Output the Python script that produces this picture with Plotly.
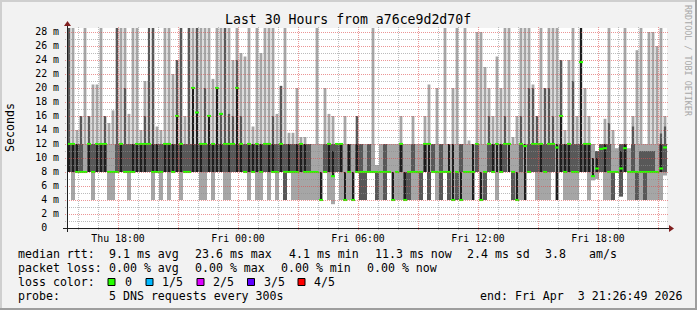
import plotly.graph_objects as go
import pandas as pd

# ---------------- data ----------------
START = pd.Timestamp("2026-04-02 15:26:49")
END = pd.Timestamp("2026-04-03 21:26:49")
STEP_MIN = 12
N = 150
times = [START + pd.Timedelta(minutes=STEP_MIN * (i + 0.5)) for i in range(N)]

# outer smoke (light gray) : lo .. hi   (ms)
hi = [29, 29, 14, 16, 29, 16, 20.5, 20.5, 29, 16,
      15, 16.8, 29, 29, 29, 16.3, 29, 29, 14, 21,
      21, 29, 14.5, 14, 29, 29, 22, 24, 29, 16,
      29, 29, 29, 29, 29, 29, 21.3, 29, 29, 29,
      29, 24, 29, 25, 24.5, 29, 14.5, 29, 25, 29,
      29, 29, 16.3, 20.3, 29, 13.6, 13.6, 20, 13, 13,
      12, 12, 29, 12, 20, 16.3, 16, 12, 12, 16,
      12, 12, 16, 12, 12, 12, 29, 9, 12, 12,
      12, 12, 12, 16, 12, 12, 16, 12, 12, 16,
      20.5, 12, 20, 12, 29, 12, 20, 29, 12, 29,
      12.5, 12, 28, 28, 23, 20, 16, 24.5, 20, 29,
      29, 13, 16, 29, 29, 29, 20.5, 16, 29, 20,
      29, 29, 29, 24, 14, 24, 29, 16, 29, 20,
      16, 12, 10.5, 12, 15.6, 29, 14, 11.4, 12, 29,
      11.4, 16, 25.4, 29, 12, 28, 28, 26, 29, 16]
lo = [8, 4, 8, 8, 8, 8, 4, 8, 8, 8,
      4, 4, 8, 8, 8, 4, 8, 8, 8, 8,
      8, 4, 8, 4, 8, 4, 8, 8, 4, 8,
      8, 8, 8, 4, 4, 8, 4, 8, 8, 4,
      4, 8, 8, 8, 8, 4, 8, 4, 4, 8,
      4, 8, 4, 8, 4, 8, 4, 4, 4, 4,
      4, 4, 4, 4, 8, 4, 3.4, 8, 4, 4,
      4, 4, 8, 4, 4, 8, 8, 4, 4, 4,
      8, 4, 4, 4, 4, 4, 4, 4, 4, 8,
      4, 8, 4, 4, 8, 4, 4, 4, 4, 4,
      4, 4, 8, 4, 4, 8, 8, 4, 8, 8,
      8, 4, 4, 4, 4, 8, 8, 4, 4, 4,
      4, 8, 4, 8, 4, 4, 4, 4, 8, 8,
      4, 6.8, 7, 8, 4, 4, 4, 8, 4.5, 8,
      4, 4, 4, 4, 4, 4, 4, 4, 4, 7.5]

# inner smoke (dark gray) : dlo .. dhi
dlo = [8, 8, 8, 8, None, 8, 8, 8, 8, 8,
       None, None, 8, 8, 8, 8, 8, 8, 8, 8,
       8, 8, 8, 8, 8, 8, 8, 8, 8, 8,
       8, 8, 8, 8, 8, 8, 8, 8, 8, 8,
       8, 8, 8, 8, 8, 8, 8, 8, 8, 8,
       8, 8, 8, 8, 4, 8, 8, 8, 8, 8,
       8, None, None, None, 8, 8, 8, 8, 8, None,
       8, None, 8, 4, 4, 8, None, 4, None, 4,
       None, None, None, 8, 4, 4, 8, None, 4, 8,
       4, 8, None, 4, None, 4, None, 4, 8, None,
       None, None, 8, None, 4, 8, 8, None, 8, 8,
       None, 4, None, 8, None, 8, 8, 8, 8, 8,
       8, 8, None, 8, 8, 8, 8, 8, 8, 8,
       8, None, 8, 8, 8, 8, 4, None, 4.5, 8,
       None, 8, 4, 8, 4, 8, 8, None, 8, 8]
dhi = [29, 12, 12, 16, None, 16, 12, 12, 12, 16,
       None, None, 29, 12, 20, 12, 12, 12, 12, 16,
       29, 29, 12, 12, 12, 12, 12, 24, 29, 12,
       29, 16, 29, 12, 20, 16, 12, 20, 16.3, 29,
       16.3, 16, 24, 16, 12, 12, 12, 12, 12, 12,
       12, 16, 12, 20.3, 12, 12, 12, 12, 12, 12,
       12, None, None, None, 12, 12, 12, 12, 12, None,
       12, None, 16, 12, 8, 12, None, 8, None, 12,
       None, None, None, 12, 8, 8, 12, None, 8, 12,
       8, 12, None, 12, None, 8, None, 8, 12, None,
       None, None, 12, None, 8, 16, 12, None, 12, 16,
       None, 8, None, 16, None, 20, 20, 16, 12, 20,
       20, 16, None, 24, 12, 12, 21, 12, 12, 12,
       12, None, 11, 12, 12, 15, 8, None, 12, 12,
       None, 14.5, 8, 11, 11, 11, 11, None, 13.5, 14.5]

# darkest core (near black) : blo .. bhi
blo = [8, 8, 8, None, None, 8, None, 8, 8, 8,
       None, None, None, 8, None, None, 8, 8, 8, 8,
       None, 8, 8, None, 8, 8, 8, 8, 8, None,
       None, 8, 8, 8, None, 8, 8, 8, 8, None,
       8, None, 8, 8, None, 8, 8, 8, 8, None,
       8, 8, None, 8, None, 8, None, 8, 8, 8,
       None, None, None, 4, None, 8, 7.4, None, 8, 4,
       8, 4, 8, None, None, None, None, None, None, None,
       None, 4, None, 8, 4, None, None, None, None, 8,
       8, None, None, None, None, 8, 4, None, 4, None,
       None, 4, None, 4, None, None, 8, 8, 8, None,
       8, None, 4, None, 4, None, None, None, 8, None,
       None, None, 4, 8, 8, 8, None, None, 8, 8,
       8, 7.4, 8, None, 8, None, None, None, 8, 8,
       None, None, None, None, None, None, None, None, 8, None]
bhi = [12, 12, 12, None, None, 12, None, 12, 12, 12,
       None, None, None, 12, None, None, 12, 12, 12, 12,
       None, 12, 12, None, 12, 12, 12, 16, 12, None,
       None, 20, 16.5, 12, None, 16, 12, 20, 12, None,
       12, None, 20, 12, None, 12, 12, 12, 12, None,
       12, 12, None, 12, None, 12, None, 12, 12, 12,
       None, None, None, 8, None, 12, 11, None, 12, 8,
       12, 8, 12, None, None, None, None, None, None, None,
       None, 8, None, 12, 8, None, None, None, None, 12,
       12, None, None, None, None, 12, 12, None, 8, None,
       None, 12, None, 8, None, None, 12, 12, 12, None,
       12, None, 8, None, 12, None, None, None, 12, None,
       None, None, 12, 16, 12, 12, None, None, 29, 12,
       12, 10, 10, None, 12, None, None, None, 11, 12,
       None, None, None, None, None, None, None, None, 12, None]

# median rtt (ms), loss 0 everywhere
med = [12, 12, 8, 8, 8, 12, 8, 12, 12, 12,
       8, 8, 8, 12, 8, 8, 8, 12, 12, 12,
       12, 8, 8, 8, 12, 12, 8, 16, 12, 8,
       8, 20, 16.5, 12, 12, 16, 12, 20, 16.3, 12,
       12, 12, 20, 12, 8, 12, 8, 12, 8, 12,
       12, 8, 8, 12, 8, 8, 8, 8, 12, 8,
       8, 8, 8, 4, 8, 12, 7.4, 12, 12, 4,
       8, 4, 8, 8, 8, 8, 8, 8, 8, 8,
       8, 4, 8, 12, 4, 8, 8, 8, 8, 12,
       12, 8, 8, 8, 8, 8, 4, 8, 4, 8,
       8, 8, 12, 4, 8, 12, 8, 12, 8, 12,
       12, 8, 4, 12, 11.7, 8, 12, 12, 12, 8,
       12, 12, 11.5, 16, 8, 12, 8, 8, 23.7, 12,
       12, 7.4, 8.5, 11.3, 11.4, 8, 8, 8, 8.5, 11.4,
       8, 8, 8, 8, 8, 8, 8, 8, 8.5, 11.5]

y_ticks = list(range(0, 29, 2))
y_ticktext = ["0\u00a0\u00a0"] + [f"{v} m" for v in y_ticks[1:]]
x_tickvals = list(pd.date_range("2026-04-02 18:00", "2026-04-03 21:00", freq="3h"))
x_ticktext = ["Thu 18:00", "", "Fri 00:00", "", "Fri 06:00", "", "Fri 12:00", "", "Fri 18:00", ""]

title_text = "Last 30 Hours from a76ce9d2d70f"
legend_rows = [
    [("median rtt:", 16), ("9.1 ms avg", 107), ("23.6 ms max", 193), ("4.1 ms min", 287),
     ("11.3 ms now", 373), ("2.4 ms sd", 465), ("3.8", 543), ("am/s", 587)],
    [("packet loss:", 16), ("0.00 % avg", 107), ("0.00 % max", 193), ("0.00 % min", 279),
     ("0.00 % now", 365)],
    [("loss color:", 16), ("0", 123), ("1/5", 160), ("2/5", 211), ("3/5", 262), ("4/5", 312)],
    [("probe:", 16), ("5 DNS requests every 300s", 107),
     ("end: Fri Apr \u00a03 21:26:49 2026", 478)],
]
loss_colors = ["#26ff00", "#00b8ff", "#dd00ff", "#5e00ff", "#ff0000"]
loss_sq_x = [108, 146, 197, 247.5, 298]

# ---------------- styling ----------------
FONT = "DejaVu Sans Mono"
LIGHT, DARK, CORE, GREEN = "#a6a6a6", "#585858", "#1e1e1e", "#26ff00"
BACK = "#f2f2f2"
GRID = "rgba(143,143,143,0.6)"
MGRID = "rgba(222,79,79,0.6)"
AXIS = "#1f1f1f"
ARROW = "#801f1f"
X0, X1, Y0, Y1 = 67, 667, 228, 28  # plot area in px
W = STEP_MIN * 60 * 1000


def px(x):
    return (x - X0) / (X1 - X0)


def py(y):
    return (Y0 - y) / (Y0 - Y1)


def band(a_list, b_list, cap_lo=None, cap_hi=None):
    base, h = [], []
    for a, b in zip(a_list, b_list):
        if a is None or b is None:
            base.append(None); h.append(None); continue
        if cap_hi is not None:
            b = min(b, cap_hi)
        if cap_lo is not None:
            a = max(a, cap_lo)
        if b <= a:
            base.append(None); h.append(None)
        else:
            base.append(a); h.append(b - a)
    return base, h


fig = go.Figure()


def add_bar(base, h, color, width):
    fig.add_trace(go.Bar(x=times, y=h, base=base, width=width,
                         marker=dict(color=color, line=dict(width=0)),
                         hoverinfo="skip", showlegend=False))


b, h = band(lo, hi, cap_hi=12); add_bar(b, h, LIGHT, W)
b, h = band(lo, hi, cap_lo=12); add_bar(b, h, LIGHT, 0.7 * W)
b, h = band(dlo, dhi, cap_hi=12); add_bar(b, h, DARK, W)
b, h = band(dlo, dhi, cap_lo=12); add_bar(b, h, DARK, 0.55 * W)
b, h = band(blo, bhi); add_bar(b, h, CORE, 0.45 * W)
add_bar([m - 0.15 for m in med], [0.3] * N, GREEN, W)

shapes = []
# grid on top of the data (rrdtool style dotted)
ms_per_px = 200 / 7 / 200  # ms per pixel vertically... (value units)
for v in range(1, 29):
    yv = v - 0.5 / 7
    if yv > 200 / 7:
        continue
    shapes.append(dict(type="line", xref="paper", yref="y", x0=px(X0 - 2), x1=px(X1 + 2),
                       y0=yv, y1=yv, layer="above",
                       line=dict(color=MGRID if v % 2 == 0 else GRID, width=1, dash="1px,1px")))
for t in pd.date_range("2026-04-02 16:00", "2026-04-03 21:00", freq="h"):
    tx = t + pd.Timedelta(seconds=90)
    shapes.append(dict(type="line", xref="x", yref="paper", x0=tx, x1=tx,
                       y0=py(Y0 + 2), y1=py(Y1 - 2), layer="above",
                       line=dict(color=MGRID if t.hour % 3 == 0 else GRID, width=1, dash="1px,1px")))
# axes with arrows
shapes.append(dict(type="line", xref="paper", yref="paper", x0=px(X0 - 4), x1=px(X1 + 4),
                   y0=py(Y0 + 0.5), y1=py(Y0 + 0.5), layer="above", line=dict(color=AXIS, width=1)))
shapes.append(dict(type="line", xref="paper", yref="paper", x0=px(X0 + 0.5), x1=px(X0 + 0.5),
                   y0=py(Y0 + 4), y1=py(Y1 - 4), layer="above", line=dict(color=AXIS, width=1)))
shapes.append(dict(type="path", xref="paper", yref="paper", layer="above",
                   path=f"M {px(X1+2)},{py(Y0-3)} L {px(X1+2)},{py(Y0+4)} L {px(X1+7)},{py(Y0+0.5)} Z",
                   fillcolor=ARROW, line=dict(width=0)))
shapes.append(dict(type="path", xref="paper", yref="paper", layer="above",
                   path=f"M {px(X0-3)},{py(Y1-2)} L {px(X0+4)},{py(Y1-2)} L {px(X0+0.5)},{py(Y1-7)} Z",
                   fillcolor=ARROW, line=dict(width=0)))
# 3d border of the image
shapes += [
    dict(type="rect", xref="paper", yref="paper", x0=px(0), x1=px(697), y0=py(0), y1=py(2),
         fillcolor="#cfcfcf", line=dict(width=0), layer="below"),
    dict(type="rect", xref="paper", yref="paper", x0=px(0), x1=px(2), y0=py(0), y1=py(310),
         fillcolor="#cfcfcf", line=dict(width=0), layer="below"),
    dict(type="rect", xref="paper", yref="paper", x0=px(695), x1=px(697), y0=py(0), y1=py(310),
         fillcolor="#9e9e9e", line=dict(width=0), layer="below"),
    dict(type="rect", xref="paper", yref="paper", x0=px(0), x1=px(697), y0=py(308), y1=py(310),
         fillcolor="#9e9e9e", line=dict(width=0), layer="below"),
]
# loss colour squares
for c, sx in zip(loss_colors, loss_sq_x):
    shapes.append(dict(type="rect", xref="paper", yref="paper", x0=px(sx), x1=px(sx + 7),
                       y0=py(278.5), y1=py(285.5), fillcolor=c, line=dict(color="#000000", width=1)))

ann = []
ann.append(dict(text=title_text, x=px(347.5), y=py(19), xref="paper", yref="paper",
                xanchor="center", yanchor="middle", showarrow=False,
                font=dict(family=FONT, size=13.2, color="#000")))
ann.append(dict(text="Seconds", x=px(10), y=py(128), xref="paper", yref="paper", textangle=-90,
                xanchor="center", yanchor="middle", showarrow=False,
                font=dict(family=FONT, size=11.6, color="#000")))
ann.append(dict(text="RRDTOOL / TOBI OETIKER", x=px(688), y=py(61), xref="paper", yref="paper",
                textangle=90, xanchor="center", yanchor="middle", showarrow=False,
                font=dict(family=FONT, size=8.4, color="#a8a8a8")))
for row, yc in zip(legend_rows, [254, 268, 282, 296]):
    for txt, lx in row:
        ann.append(dict(text=txt, x=px(lx), y=py(yc), xref="paper", yref="paper",
                        xanchor="left", yanchor="middle", showarrow=False,
                        font=dict(family=FONT, size=11.6, color="#000")))

fig.update_layout(
    width=697, height=310, autosize=False,
    margin=dict(l=X0, r=697 - X1, t=Y1, b=310 - Y0, pad=0),
    paper_bgcolor=BACK, plot_bgcolor="#ffffff",
    barmode="overlay", showlegend=False,
    shapes=shapes, annotations=ann,
    xaxis=dict(type="date", range=[START, END], showgrid=False, zeroline=False, showline=False,
               tickvals=x_tickvals, ticktext=x_ticktext, ticks="", ticklabelstandoff=3,
               tickfont=dict(family=FONT, size=9.9, color="#000"), fixedrange=True),
    yaxis=dict(range=[0, 200 / 7], showgrid=False, zeroline=False, showline=False,
               tickvals=y_ticks, ticktext=y_ticktext, ticks="", ticklabelstandoff=7,
               tickfont=dict(family=FONT, size=9.9, color="#000"), fixedrange=True),
)

fig.write_html("out.html")
